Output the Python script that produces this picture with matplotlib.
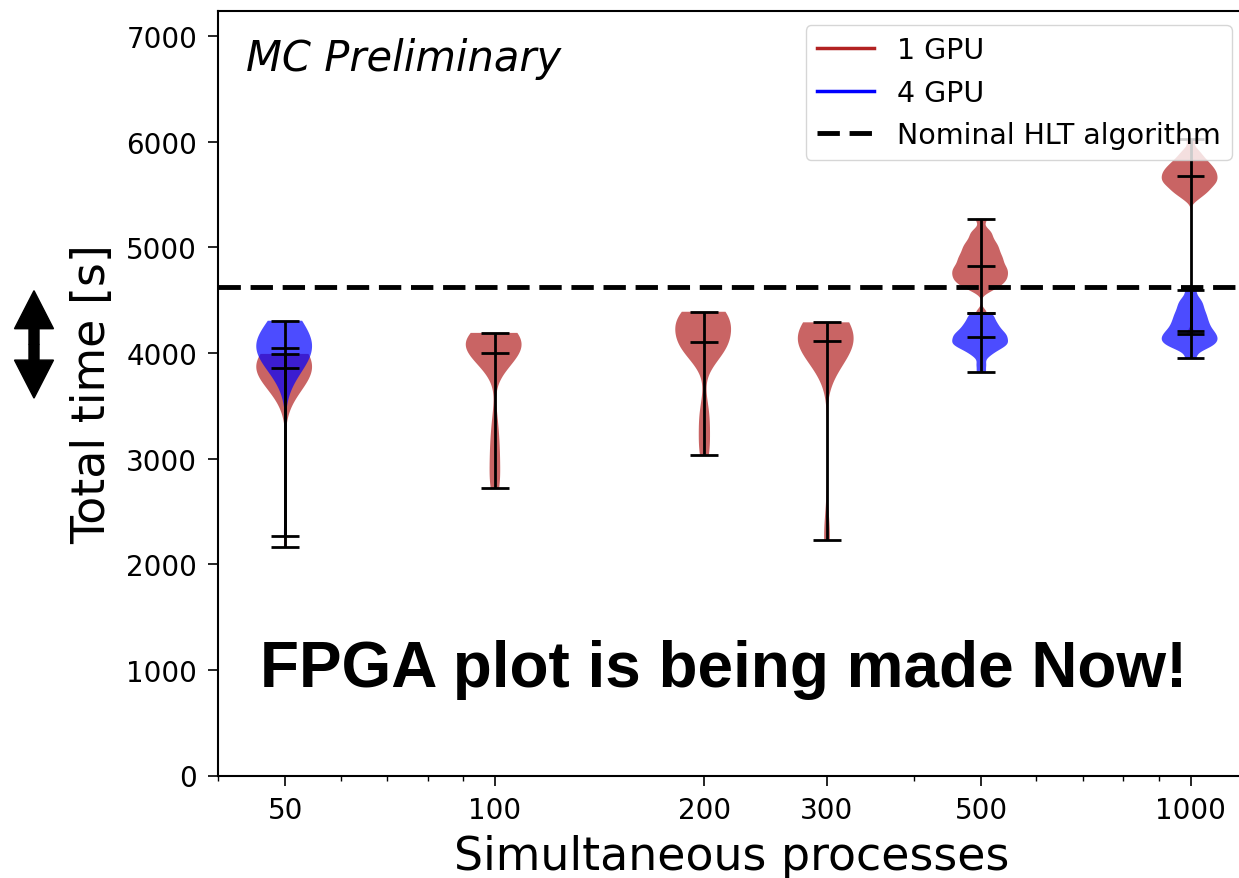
import numpy as np
import matplotlib
matplotlib.use("Agg")
import matplotlib.pyplot as plt
from matplotlib.lines import Line2D
from matplotlib.patches import FancyArrow
from matplotlib.transforms import IdentityTransform
from matplotlib.ticker import FixedLocator, FixedFormatter, NullFormatter

# ---------------- data (total time per job, seconds) ----------------
procs_1gpu = [50, 100, 200, 300, 500, 1000]
procs_4gpu = [50, 500, 1000]

t1_50 = [2165, 3700, 3740, 3770, 3790, 3805, 3820, 3835, 3845, 3852, 3859,
         3870, 3885, 3900, 3915, 3930, 3945, 3960, 3972, 3983, 3991]
t1_100 = [2720, 2760, 2880, 3000, 3100, 3220, 3380,
          3870, 3910, 3940, 3960, 3975, 3988, 3995, 4000, 4030, 4060, 4085,
          4105, 4120, 4135, 4145, 4155, 4163, 4170, 4177, 4184, 4188, 4190]
t1_200 = [3035, 3100, 3250, 3380, 3480,
          3950, 3990, 4020, 4045, 4065, 4080, 4090, 4098, 4105, 4150, 4200,
          4240, 4270, 4295, 4315, 4335, 4350, 4362, 4372, 4380, 4386, 4390]
t1_300 = [2230, 2290,
          3960, 3995, 4020, 4040, 4055, 4070, 4082, 4093, 4102, 4110, 4125,
          4145, 4165, 4185, 4205, 4222, 4238, 4252, 4265, 4278, 4290]
t1_500 = [4377, 4591, 4626, 4652, 4672, 4692, 4712, 4731, 4750, 4768, 4788,
          4808, 4822, 4851, 4873, 4895, 4918, 4945, 4973, 5002, 5031, 5066,
          5113, 5159, 5270]
t1_1000 = [4178, 5456, 5500, 5522, 5544, 5566, 5587, 5602, 5617, 5632, 5647,
           5662, 5677, 5693, 5708, 5723, 5739, 5757, 5776, 5795, 5818, 5847,
           5878, 5924, 6025]

t4_50 = [2270, 3890, 3930, 3960, 3985, 4000, 4015, 4025, 4035, 4040, 4045,
         4055, 4065, 4080, 4095, 4115, 4140, 4170, 4205, 4250, 4305]
t4_500 = [3818, 3890, 3965, 4001, 4024, 4044, 4058, 4071, 4083, 4094, 4106,
          4117, 4129, 4149, 4155, 4167, 4181, 4195, 4209, 4226, 4244, 4263,
          4283, 4304, 4330, 4360, 4377]
t4_1000 = [3951, 4027, 4055, 4071, 4087, 4104, 4120, 4134, 4149, 4164, 4182,
           4200, 4212, 4238, 4259, 4281, 4305, 4331, 4357, 4383, 4415, 4449,
           4482, 4524, 4600]

nominal_hlt = 4620

x_ticks = [50, 100, 200, 300, 500, 1000]
x_tick_labels = ["50", "100", "200", "300", "500", "1000"]
y_ticks = [0, 1000, 2000, 3000, 4000, 5000, 6000, 7000]

# KDE bandwidths (seconds) used for each violin (rendering choice)
bw_1gpu = [205, 150, 150, 225, 40, 40]
bw_4gpu = [220, 35, 40]

# ---------------- figure ----------------
W, H, DPI = 1239, 879, 100
fig = plt.figure(figsize=(W / DPI, H / DPI), dpi=DPI)
ax = fig.add_axes([218 / W, 102.5 / H, 1028 / W, 764.8 / H])
ax.set_xscale("log")
ax.set_xlim(40, 1200)
ax.set_ylim(0, 7240)

REL_W = 0.184
RED = "firebrick"
BLUE = "blue"


def draw(pos, data, bw, color):
    parts = ax.violinplot([data], positions=[pos], widths=[REL_W * pos],
                          showmedians=True, showextrema=True, points=300,
                          bw_method=lambda k, h=bw: h / np.std(k.dataset, ddof=1))
    for b in parts["bodies"]:
        b.set_facecolor(color)
        b.set_edgecolor("none")
        b.set_alpha(0.7)
    for key in ("cbars", "cmins", "cmaxes", "cmedians"):
        parts[key].set_color("black")
        parts[key].set_linewidth(2.0)


data_1gpu = [t1_50, t1_100, t1_200, t1_300, t1_500, t1_1000]
data_4gpu = [t4_50, t4_500, t4_1000]
for p, d, bw in zip(procs_1gpu, data_1gpu, bw_1gpu):
    draw(p, d, bw, RED)
for p, d, bw in zip(procs_4gpu, data_4gpu, bw_4gpu):
    draw(p, d, bw, BLUE)

dash = (0, (4.6, 2.0))
ax.axhline(nominal_hlt, color="black", lw=3.5, ls=dash, zorder=3)

# ticks
ax.xaxis.set_major_locator(FixedLocator(x_ticks))
ax.xaxis.set_major_formatter(FixedFormatter(x_tick_labels))
ax.xaxis.set_minor_formatter(NullFormatter())
ax.set_yticks(y_ticks)
ax.tick_params(axis="both", which="major", labelsize=20, length=7, width=1.2, pad=8)
ax.tick_params(axis="x", which="minor", length=3.6, width=1.0)
for s in ax.spines.values():
    s.set_linewidth(1.5)

ax.set_xlabel("Simultaneous processes", fontsize=33)
ax.xaxis.set_label_coords(0.5, -0.0765)
ax.set_ylabel("Total time [s]", fontsize=33)
ax.yaxis.set_label_coords(-0.100, 0.5)

handles = [Line2D([0], [0], color=RED, lw=2.5),
           Line2D([0], [0], color=BLUE, lw=2.5),
           Line2D([0], [0], color="black", lw=3.5, ls=dash)]
ax.legend(handles, ["1 GPU", "4 GPU", "Nominal HLT algorithm"],
          loc="upper right", fontsize=20.5)

ax.text(0.027, 0.923, "MC Preliminary", transform=ax.transAxes,
        fontsize=30, style="italic", ha="left", va="baseline")

fig.text(724 / W, 1 - 687 / H, "FPGA plot is being made Now!",
         fontsize=46, fontweight="bold", family="Liberation Sans",
         ha="center", va="baseline")

# double-headed arrow on the left margin (pixel coordinates)
cx, cy, half = 34, 879 - 345.4, 53.7
for sgn in (1, -1):
    fig.add_artist(FancyArrow(cx, cy, 0, sgn * half, width=10, head_width=39,
                              head_length=38, length_includes_head=True,
                              color="black", transform=IdentityTransform()))

fig.savefig("out.png", dpi=DPI)
